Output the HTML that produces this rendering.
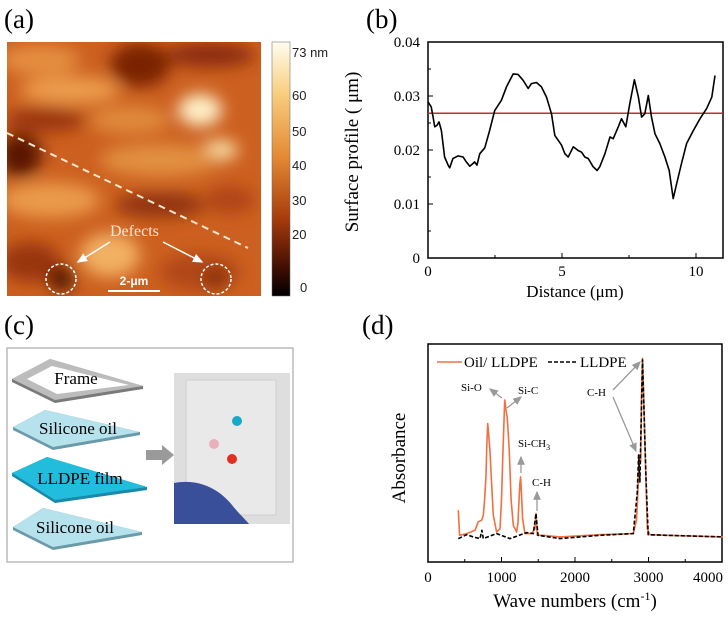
<!DOCTYPE html>
<html><head><meta charset="utf-8"><style>
html,body{margin:0;padding:0;background:#fff}
svg{display:block;font-family:"Liberation Serif",serif}
</style></head><body>
<svg id="fig" width="728" height="618" viewBox="0 0 728 618">
<defs>
<filter id="blur8" x="-50%" y="-50%" width="200%" height="200%"><feGaussianBlur stdDeviation="8"/></filter>
<clipPath id="afmclip"><rect x="7" y="42" width="254" height="254"/></clipPath>
<linearGradient id="cbar" x1="0" y1="0" x2="0" y2="1">
<stop offset="0" stop-color="#fffdf0"/><stop offset="0.2" stop-color="#f8cf80"/><stop offset="0.45" stop-color="#e48a34"/><stop offset="0.7" stop-color="#a53a0c"/><stop offset="0.9" stop-color="#3a0c02"/><stop offset="1" stop-color="#000"/>
</linearGradient>
<marker id="wa" markerWidth="8" markerHeight="8" refX="6" refY="3" orient="auto"><path d="M0,0 L7,3 L0,6 z" fill="#fff"/></marker>
<marker id="ga" markerWidth="8" markerHeight="8" refX="6" refY="3" orient="auto"><path d="M0,0 L7,3 L0,6 z" fill="#999"/></marker>
</defs>

<text x="4" y="28" font-size="27">(a)</text>
<text x="366" y="28" font-size="27">(b)</text>
<text x="4" y="334" font-size="27">(c)</text>
<text x="362" y="334" font-size="27">(d)</text>

<!-- panel a AFM -->
<g clip-path="url(#afmclip)">
<rect x="7" y="42" width="254" height="254" fill="#cc6020"/>
<g filter="url(#blur8)">
<ellipse cx="40" cy="60" rx="40" ry="15" fill="#e48e40"/>
<ellipse cx="70" cy="90" rx="50" ry="14" fill="#ec9c4c"/>
<ellipse cx="140" cy="65" rx="30" ry="22" fill="#7a2206"/>
<ellipse cx="210" cy="55" rx="45" ry="12" fill="#8a2c0a"/>
<ellipse cx="200" cy="110" rx="22" ry="16" fill="#fff0c8"/>
<ellipse cx="45" cy="120" rx="40" ry="12" fill="#9a340e"/>
<ellipse cx="130" cy="120" rx="40" ry="14" fill="#e08a3a"/>
<ellipse cx="20" cy="155" rx="22" ry="22" fill="#5a1804"/>
<ellipse cx="220" cy="150" rx="18" ry="10" fill="#fae0a8"/>
<ellipse cx="160" cy="160" rx="60" ry="16" fill="#e29040"/>
<ellipse cx="50" cy="200" rx="50" ry="18" fill="#ea9a4a"/>
<ellipse cx="160" cy="205" rx="45" ry="12" fill="#8e300c"/>
<ellipse cx="230" cy="200" rx="25" ry="14" fill="#b04414"/>
<ellipse cx="110" cy="255" rx="30" ry="22" fill="#f2b064"/>
<ellipse cx="30" cy="262" rx="30" ry="20" fill="#9a340e"/>
<ellipse cx="200" cy="272" rx="40" ry="18" fill="#b04618"/>
<ellipse cx="61" cy="279" rx="13" ry="12" fill="#4a1204"/>
<ellipse cx="216" cy="279" rx="10" ry="8" fill="#6a1c06"/>
</g>
</g>
<line x1="7" y1="133" x2="248" y2="248" stroke="#fde8d0" stroke-width="2" stroke-dasharray="7,5"/>
<circle cx="61" cy="279" r="15" fill="none" stroke="#fff" stroke-width="1.5" stroke-dasharray="3,2"/>
<circle cx="216" cy="279" r="15" fill="none" stroke="#fff" stroke-width="1.5" stroke-dasharray="3,2"/>
<text x="110" y="236" font-size="16" fill="#fbe4d0">Defects</text>
<line x1="110" y1="242" x2="78" y2="262" stroke="#fff" stroke-width="1.5" marker-end="url(#wa)"/>
<line x1="163" y1="242" x2="202" y2="262" stroke="#fff" stroke-width="1.5" marker-end="url(#wa)"/>
<line x1="108" y1="291" x2="160" y2="291" stroke="#fff" stroke-width="2"/>
<text x="134" y="285" font-size="12" font-weight="bold" fill="#fff" text-anchor="middle" font-family="Liberation Sans, sans-serif">2-μm</text>
<rect x="272" y="42" width="18" height="254" fill="url(#cbar)" stroke="#666" stroke-width="0.5"/>
<g font-family="Liberation Sans, sans-serif" font-size="13" fill="#222">
<text x="292" y="57">73 nm</text><text x="292" y="100">60</text><text x="292" y="136">50</text><text x="292" y="170">40</text><text x="292" y="205">30</text><text x="292" y="239">20</text><text x="300" y="292">0</text>
</g>

<g id="pb"></g>

<!-- panel c -->
<rect x="7" y="348" width="286" height="214" fill="#fff" stroke="#aaa" stroke-width="1.2"/>
<g>
<polygon points="12,379 50,359 143,386 143,389 55,403 12,382" fill="#7a7a7a"/>
<polygon points="12,379 50,359 143,386 55,400" fill="#bcbcbc"/>
<polygon points="27,379 52,366 129,385 57,394" fill="#fff"/>
<text x="76" y="384" font-size="17" text-anchor="middle">Frame</text>
</g>
<g>
<polygon points="13,427 45,410 140,432 140,435 53,450 13,430" fill="#6a9aa8"/>
<polygon points="13,427 45,410 140,432 53,447" fill="#b6e2ee"/>
<text x="78" y="434" font-size="17" text-anchor="middle">Silicone oil</text>
</g>
<g>
<polygon points="12,473 47,457 147,487 147,490 55,503 12,476" fill="#1a88a8"/>
<polygon points="12,473 47,457 147,487 55,500" fill="#22bcdc"/>
<text x="80" y="484" font-size="17" text-anchor="middle">LLDPE film</text>
</g>
<g>
<polygon points="13,527 43,508 142,532 142,535 53,550 13,530" fill="#6a9aa8"/>
<polygon points="13,527 43,508 142,532 53,547" fill="#b6e2ee"/>
<text x="75" y="533" font-size="17" text-anchor="middle">Silicone oil</text>
</g>
<polygon points="146,450 162,450 162,445 174,455 162,465 162,460 146,460" fill="#9a9a9a"/>
<g>
<rect x="174" y="373" width="116" height="151" fill="#dedede"/>
<rect x="186" y="380" width="90" height="135" fill="#e9e9ea" stroke="#cfcfcf"/>
<path d="M174,483 C200,478 220,490 232,505 C240,515 246,520 249,524 L174,524 Z" fill="#3a4f9a"/>
<circle cx="237" cy="421" r="5" fill="#1aa8c8"/>
<circle cx="214" cy="444" r="5" fill="#e8b0bc"/>
<circle cx="232" cy="459" r="5" fill="#e03020"/>
</g>

<g id="pd"></g>

<script>
// ---- panel b data ----
const profDist = [0,0.12,0.19,0.25,0.34,0.41,0.50,0.62,0.75,0.81,0.93,1.12,1.31,1.43,1.56,1.68,1.74,1.83,1.93,2.12,2.30,2.49,2.74,2.93,3.18,3.36,3.55,3.74,3.86,4.05,4.23,4.42,4.61,4.73,4.86,4.98,5.11,5.23,5.42,5.60,5.73,5.85,5.98,6.16,6.31,6.41,6.60,6.79,6.91,7.10,7.22,7.38,7.53,7.70,7.85,7.97,8.09,8.22,8.34,8.47,8.65,8.84,9.00,9.15,9.28,9.46,9.65,9.90,10.15,10.40,10.59,10.71];
const profHeight = [0.0289,0.0280,0.0261,0.0243,0.0246,0.0252,0.0236,0.0187,0.0172,0.0167,0.0184,0.0189,0.0187,0.0178,0.0170,0.0175,0.0178,0.0172,0.0193,0.0204,0.0236,0.0273,0.0292,0.0317,0.0341,0.0340,0.0329,0.0314,0.0323,0.0325,0.0317,0.0298,0.0267,0.0227,0.0218,0.0209,0.0193,0.0187,0.0206,0.0199,0.0196,0.0187,0.0184,0.0169,0.0162,0.0169,0.0193,0.0224,0.0221,0.0243,0.0258,0.0243,0.0286,0.0330,0.0298,0.0261,0.0267,0.0301,0.0261,0.0230,0.0212,0.0187,0.0162,0.0110,0.0138,0.0175,0.0212,0.0236,0.0258,0.0277,0.0298,0.0338];
const profMean = 0.0268;
const profYTicks = [0,0.01,0.02,0.03,0.04];
const profYLabels = ["0","0.01","0.02","0.03","0.04"];
const profXTicks = [0,5,10];
// ---- panel d data ----
const oilWn = [412,430,526,639,685,730,752,770,789,800,812,825,843,865,889,934,979,1000,1015,1025,1043,1061,1079,1095,1106,1130,1160,1206,1225,1233,1250,1260,1272,1287,1319,1410,1455,1469,1487,1568,1795,2339,2793,2835,2847,2874,2892,2905,2919,2935,2951,2983,3019,3246,4008];
const oilAbs = [0.250,0.129,0.137,0.153,0.194,0.202,0.226,0.300,0.419,0.560,0.669,0.620,0.532,0.380,0.226,0.145,0.161,0.300,0.480,0.581,0.782,0.734,0.694,0.600,0.532,0.300,0.177,0.145,0.190,0.258,0.380,0.411,0.330,0.210,0.137,0.137,0.161,0.234,0.129,0.129,0.121,0.132,0.137,0.200,0.274,0.516,0.484,0.800,0.984,0.800,0.581,0.161,0.132,0.129,0.121];
const peWn = [412,526,616,707,734,752,934,1115,1342,1432,1469,1496,1795,2339,2793,2847,2865,2883,2919,2965,2996,3246,4008];
const peAbs = [0.113,0.132,0.121,0.113,0.153,0.113,0.137,0.113,0.142,0.137,0.234,0.129,0.113,0.129,0.137,0.339,0.516,0.387,0.976,0.419,0.132,0.129,0.121];
const wnTicks = [0,1000,2000,3000,4000];

const NS = "http://www.w3.org/2000/svg";
function mk(parent, tag, attrs, txt){const e=document.createElementNS(NS,tag);for(const k in attrs)e.setAttribute(k,attrs[k]);if(txt!==undefined)e.textContent=txt;parent.appendChild(e);return e;}

// panel b
(function(){
const g=document.getElementById('pb');
const X0=428,X1=723,Y0=258,Y1=42;
const sxx=v=>X0+v*26.8;
const sy=v=>Y0-(v/0.04)*(Y0-Y1);
const frame=mk(g,'rect',{x:X0,y:Y1,width:X1-X0,height:Y0-Y1,fill:'none',stroke:'#000','stroke-width':1.5});


profYTicks.forEach((t,i)=>{
 mk(g,'line',{x1:X0,x2:X0+5,y1:sy(t),y2:sy(t),stroke:'#000'});
 const lb=mk(g,'text',{x:X0-8,y:sy(t)+5,'font-size':15,'text-anchor':'end'},profYLabels[i]);
 
 
});
[0.005,0.015,0.025,0.035].forEach(t=>mk(g,'line',{x1:X0,x2:X0+3,y1:sy(t),y2:sy(t),stroke:'#000'}));
profXTicks.forEach(t=>{
 mk(g,'line',{x1:sxx(t),x2:sxx(t),y1:Y0,y2:Y0-5,stroke:'#000'});
 const lb=mk(g,'text',{x:sxx(t),y:Y0+18,'font-size':15,'text-anchor':'middle'},String(t));
 
 
});
[2.5,7.5].forEach(t=>mk(g,'line',{x1:sxx(t),x2:sxx(t),y1:Y0,y2:Y0-3,stroke:'#000'}));
const xt=mk(g,'text',{x:575,y:297,'font-size':17,'text-anchor':'middle'},'Distance (μm)');


const yt=mk(g,'text',{x:0,y:0,'font-size':19,'text-anchor':'middle',transform:'translate(358,152) rotate(-90)'},'Surface profile ( μm)');


const ml=mk(g,'line',{x1:X0,x2:X1,y1:sy(profMean),y2:sy(profMean),stroke:'#c8283a','stroke-width':1.5});


const d=profDist.map((v,i)=>(i?'L':'M')+sxx(v).toFixed(1)+','+sy(profHeight[i]).toFixed(1)).join(' ');
const pl=mk(g,'path',{d:d,fill:'none',stroke:'#000','stroke-width':1.6,'stroke-linejoin':'round'});


})();

// panel d
(function(){
const g=document.getElementById('pd');
const X0=428,X1=722,Y0=562,Y1=344;
const sx=v=>X0+v/4000*(X1-X0);
const sy=v=>Y0-v*(Y0-Y1)*0.95;
const fr=mk(g,'rect',{x:X0,y:Y1,width:X1-X0,height:Y0-Y1,fill:'none',stroke:'#000','stroke-width':1.5});


wnTicks.forEach((t,i)=>{
 mk(g,'line',{x1:sx(t),x2:sx(t),y1:Y0,y2:Y0-5,stroke:'#000'});
 const lx = i===wnTicks.length-1 ? sx(t)-14 : sx(t);
 const lb=mk(g,'text',{x:lx,y:Y0+20,'font-size':15,'text-anchor':'middle'},String(t));
 
 
});
[500,1500,2500,3500].forEach(t=>mk(g,'line',{x1:sx(t),x2:sx(t),y1:Y0,y2:Y0-3,stroke:'#000'}));
const xt=mk(g,'text',{x:575,y:607,'font-size':19,'text-anchor':'middle'},'Wave numbers (cm');


mk(xt,'tspan',{dy:-7,'font-size':12},'-1');
mk(xt,'tspan',{dy:7},')');
const yt=mk(g,'text',{x:0,y:0,'font-size':19,'text-anchor':'middle',transform:'translate(405,458) rotate(-90)'},'Absorbance');


const po=oilWn.map((v,i)=>(i?'L':'M')+sx(v).toFixed(1)+','+sy(oilAbs[i]).toFixed(1)).join(' ');
const p1=mk(g,'path',{d:po,fill:'none',stroke:'#f07040','stroke-width':1.6,'stroke-linejoin':'round'});


const pp=peWn.map((v,i)=>(i?'L':'M')+sx(v).toFixed(1)+','+sy(peAbs[i]).toFixed(1)).join(' ');
const p2=mk(g,'path',{d:pp,fill:'none',stroke:'#000','stroke-width':1.6,'stroke-dasharray':'4,2','stroke-linejoin':'round'});


const lg=mk(g,'g',{});


mk(lg,'line',{x1:437,x2:462,y1:362,y2:362,stroke:'#f07040','stroke-width':1.6});
mk(lg,'text',{x:464,y:367,'font-size':15},'Oil/ LLDPE');
mk(lg,'line',{x1:548,x2:577,y1:362,y2:362,stroke:'#000','stroke-width':1.6,'stroke-dasharray':'4,2'});
mk(lg,'text',{x:580,y:367,'font-size':15},'LLDPE');
const an=mk(g,'g',{'font-size':11});


mk(an,'text',{x:461,y:391},'Si-O');
mk(an,'line',{x1:502,y1:398,x2:490,y2:389,stroke:'#999','stroke-width':1.3,'marker-end':'url(#ga)'});
mk(an,'text',{x:518,y:394},'Si-C');
mk(an,'line',{x1:507,y1:408,x2:521,y2:397,stroke:'#999','stroke-width':1.3,'marker-end':'url(#ga)'});
const s=mk(an,'text',{x:518,y:447},'Si-CH');
mk(s,'tspan',{dy:3,'font-size':8},'3');
mk(an,'line',{x1:521,y1:473,x2:521,y2:457,stroke:'#999','stroke-width':1.3,'marker-end':'url(#ga)'});
mk(an,'text',{x:532,y:486},'C-H');
mk(an,'line',{x1:537,y1:511,x2:537,y2:492,stroke:'#999','stroke-width':1.3,'marker-end':'url(#ga)'});
mk(an,'text',{x:587,y:396},'C-H');
mk(an,'line',{x1:613,y1:390,x2:640,y2:362,stroke:'#999','stroke-width':1.3,'marker-end':'url(#ga)'});
mk(an,'line',{x1:613,y1:397,x2:636,y2:451,stroke:'#999','stroke-width':1.3,'marker-end':'url(#ga)'});
})();
</script>
</svg>
</body></html>
